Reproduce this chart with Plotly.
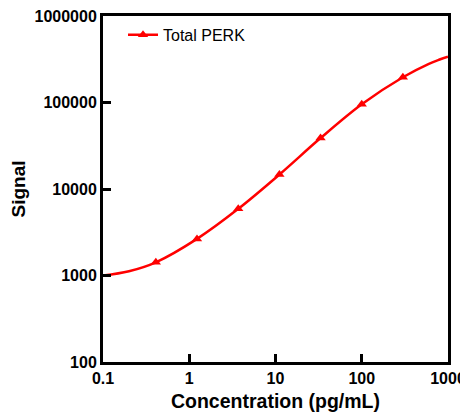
import plotly.graph_objects as go

# Data
conc = [0.41, 1.23, 3.7, 11.1, 33.3, 100, 300]
signal = [1420, 2650, 5900, 14700, 38800, 95500, 196000]

# Fitted curve points
curve_x = [0.1, 0.2, 0.41, 1.23, 3.7, 11.1, 33.3, 100, 300, 600, 800, 1000]
curve_y = [1000, 1120, 1420, 2650, 5900, 14700, 38800, 95500, 196000, 280000, 314000, 339000]

y_ticks = [100, 1000, 10000, 100000, 1000000]
y_labels = ["100", "1000", "10000", "100000", "1000000"]
x_ticks = [0.1, 1, 10, 100, 1000]
x_labels = ["0.1", "1", "10", "100", "1000"]

RED = "#ff0000"
font_family = "Liberation Sans, Arial, sans-serif"

fig = go.Figure()
fig.add_trace(go.Scatter(x=curve_x, y=curve_y, mode="lines",
                         line=dict(color=RED, width=2.5, shape="spline", smoothing=1.0),
                         showlegend=False, hoverinfo="skip"))
fig.add_trace(go.Scatter(x=conc, y=signal, mode="markers",
                         marker=dict(symbol="triangle-up", size=9, color=RED),
                         showlegend=False))
fig.add_trace(go.Scatter(x=[None], y=[None], mode="lines+markers", name="Total PERK",
                         line=dict(color=RED, width=2.5),
                         marker=dict(symbol="triangle-up", size=9, color=RED)))

axis_common = dict(
    showline=True, linecolor="black", linewidth=3, mirror=True,
    ticks="inside", ticklen=8, tickwidth=3, tickcolor="black",
    showgrid=False, zeroline=False, automargin=False, ticklabeloverflow="allow",
    tickfont=dict(family=font_family, size=16, color="black", weight="bold"),
)

# page body has an 8px margin, so the figure is sized to fit the remaining window
fig.update_layout(
    width=460, height=408,
    margin=dict(l=95, r=20, t=8, b=54),
    plot_bgcolor="white", paper_bgcolor="white",
    font=dict(family=font_family, color="black"),
    xaxis=dict(type="log", range=[-1, 3], tickvals=x_ticks, ticktext=x_labels,
               title=dict(text="<b>Concentration (pg/mL)</b>", font=dict(size=19.5), standoff=9),
               **axis_common),
    yaxis=dict(type="log", range=[2, 6], tickvals=y_ticks, ticktext=y_labels,
               title=dict(text="<b>Signal</b>", font=dict(size=19), standoff=7),
               **axis_common),
    legend=dict(x=0.058, y=0.995, xanchor="left", yanchor="top",
                bgcolor="rgba(0,0,0,0)", font=dict(size=16, family=font_family)),
)

fig.write_html("out.html")
